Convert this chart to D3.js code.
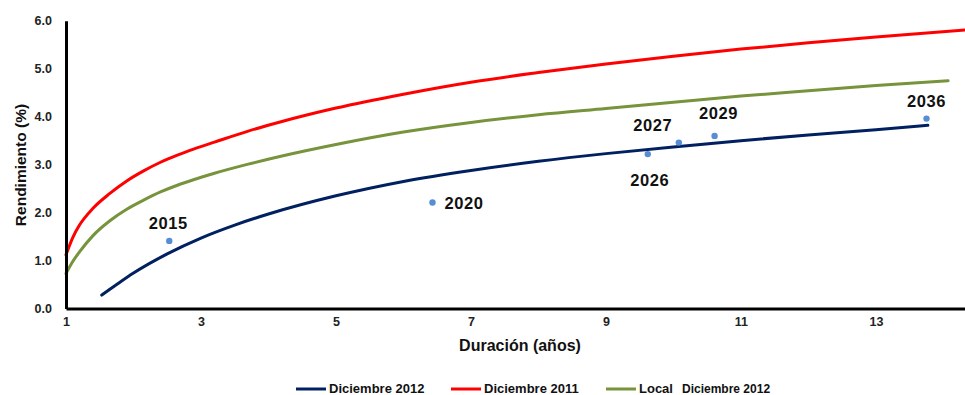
<!DOCTYPE html>
<html>
<head>
<meta charset="utf-8">
<script src="https://cdn.jsdelivr.net/npm/d3@7/dist/d3.min.js"></script>
<style>
  html, body { margin: 0; padding: 0; background: #fff; }
  svg { display: block; font-family: "Liberation Sans", Arial, sans-serif; }
</style>
</head>
<body>
<svg id="chart" width="965" height="395"></svg>
<script>
// Yield curves: duration (years) vs yield (%)
const dic2012X = [1.53, 1.75, 2.0, 2.5, 3.0, 3.5, 4.0, 5.0, 6.0, 7.0, 8.0, 9.0, 10.0, 11.0, 12.0, 13.0, 13.77];
const dic2012Y = [0.28, 0.50, 0.74, 1.14, 1.47, 1.74, 1.97, 2.35, 2.65, 2.88, 3.07, 3.23, 3.37, 3.50, 3.62, 3.73, 3.82];

const dic2011X = [1.0, 1.1, 1.2, 1.4, 1.65, 1.9, 2.15, 2.4, 2.65, 2.9, 3.2, 3.7, 4.2, 5.0, 6.0, 7.0, 8.0, 9.0, 10.0, 11.0, 12.0, 13.0, 14.35];
const dic2011Y = [1.12, 1.48, 1.74, 2.09, 2.40, 2.66, 2.87, 3.05, 3.20, 3.33, 3.47, 3.70, 3.90, 4.18, 4.47, 4.72, 4.92, 5.10, 5.26, 5.41, 5.54, 5.66, 5.81];

const localX = [1.0, 1.1, 1.2, 1.4, 1.65, 1.9, 2.15, 2.4, 2.65, 2.9, 3.2, 3.7, 4.2, 5.0, 6.0, 7.0, 8.0, 9.0, 10.0, 11.0, 12.0, 13.0, 14.07];
const localY = [0.73, 0.98, 1.18, 1.52, 1.83, 2.07, 2.26, 2.43, 2.57, 2.69, 2.82, 3.01, 3.18, 3.42, 3.68, 3.88, 4.04, 4.17, 4.30, 4.43, 4.54, 4.65, 4.75];

// Observed bonds (maturity year)
const bondYears = ["2015", "2020", "2026", "2027", "2029", "2036"];
const bondDur   = [2.53, 6.43, 9.62, 10.08, 10.61, 13.75];
const bondYield = [1.41, 2.21, 3.22, 3.46, 3.60, 3.96];

const xTicks = [1, 3, 5, 7, 9, 11, 13];
const yTicks = [0, 1, 2, 3, 4, 5, 6];

const seriesNames  = ["Diciembre 2012", "Diciembre 2011", "Local"];
const seriesColors = ["#002060", "#FF0000", "#77933C"];

const svg = d3.select("#chart");
svg.append("rect").attr("width", 965).attr("height", 395).attr("fill", "#fff");

const x = d3.scaleLinear().domain([1, 14.35]).range([66, 967]);
const y = d3.scaleLinear().domain([0, 6]).range([308.5, 20.8]);

// Curves
const curves = [
  { xs: dic2012X, ys: dic2012Y, color: seriesColors[0] },
  { xs: dic2011X, ys: dic2011Y, color: seriesColors[1] },
  { xs: localX,   ys: localY,   color: seriesColors[2] }
];
const line = d3.line()
  .x(d => x(d[0]))
  .y(d => y(d[1]))
  .curve(d3.curveMonotoneX);

svg.append("g").selectAll("path")
  .data(curves)
  .join("path")
  .attr("d", c => line(c.xs.map((v, i) => [v, c.ys[i]])))
  .attr("fill", "none")
  .attr("stroke", c => c.color)
  .attr("stroke-width", 3)
  .attr("stroke-linecap", "round");

// Axes
const yAxis = svg.append("g")
  .attr("transform", `translate(${x(1)},0)`)
  .call(d3.axisLeft(y).tickValues(yTicks).tickFormat(d3.format(".1f")).tickSize(0).tickPadding(14));
const xAxis = svg.append("g")
  .attr("transform", `translate(0,${y(0)})`)
  .call(d3.axisBottom(x).tickValues(xTicks).tickFormat(d3.format("d")).tickSize(0).tickPadding(9));

[yAxis, xAxis].forEach(g => {
  g.select(".domain").attr("stroke", "#000").attr("stroke-width", 3);
  g.selectAll("text")
    .attr("font-family", "'Liberation Sans', Arial, sans-serif")
    .attr("font-size", 12.5)
    .attr("font-weight", "bold")
    .attr("fill", "#222");
});

// Axis titles
svg.append("text")
  .attr("x", 520).attr("y", 351)
  .attr("text-anchor", "middle")
  .attr("font-size", 16).attr("font-weight", "bold").attr("fill", "#111")
  .text("Duración (años)");
svg.append("text")
  .attr("transform", "translate(26,165) rotate(-90)")
  .attr("text-anchor", "middle")
  .attr("font-size", 15.5).attr("font-weight", "bold").attr("fill", "#111")
  .text("Rendimiento (%)");

// Bond points
const bonds = bondYears.map((yr, i) => ({ yr, d: bondDur[i], v: bondYield[i] }));
svg.append("g").selectAll("circle")
  .data(bonds)
  .join("circle")
  .attr("cx", b => x(b.d))
  .attr("cy", b => y(b.v))
  .attr("r", 3.2)
  .attr("fill", "#558ED5");

// Label placement relative to each point
const labelOffsets = {
  "2015": [-1, -12, "middle"],
  "2020": [12, 6, "start"],
  "2026": [2, 32, "middle"],
  "2027": [-26, -12, "middle"],
  "2029": [4, -17, "middle"],
  "2036": [0, -12, "middle"]
};
svg.append("g").selectAll("text")
  .data(bonds)
  .join("text")
  .attr("x", b => x(b.d) + labelOffsets[b.yr][0])
  .attr("y", b => y(b.v) + labelOffsets[b.yr][1])
  .attr("text-anchor", b => labelOffsets[b.yr][2])
  .attr("font-size", 16.5)
  .attr("font-weight", "bold")
  .attr("letter-spacing", 0.6)
  .attr("fill", "#111")
  .text(b => b.yr);

// Legend
const legend = svg.append("g");
const legendItems = [
  { x1: 296, x2: 326, tx: 329, name: seriesNames[0], color: seriesColors[0] },
  { x1: 451, x2: 481, tx: 484, name: seriesNames[1], color: seriesColors[1] },
  { x1: 606, x2: 636, tx: 639, name: seriesNames[2], color: seriesColors[2] }
];
legendItems.forEach(it => {
  legend.append("line")
    .attr("x1", it.x1).attr("x2", it.x2)
    .attr("y1", 389).attr("y2", 389)
    .attr("stroke", it.color).attr("stroke-width", 3);
  legend.append("text")
    .attr("x", it.tx).attr("y", 393)
    .attr("font-size", 13).attr("font-weight", "bold").attr("fill", "#111")
    .text(it.name);
});
legend.append("text")
  .attr("x", 682).attr("y", 393)
  .attr("font-size", 12).attr("font-weight", "bold").attr("fill", "#111")
  .text("Diciembre 2012");
</script>
</body>
</html>
